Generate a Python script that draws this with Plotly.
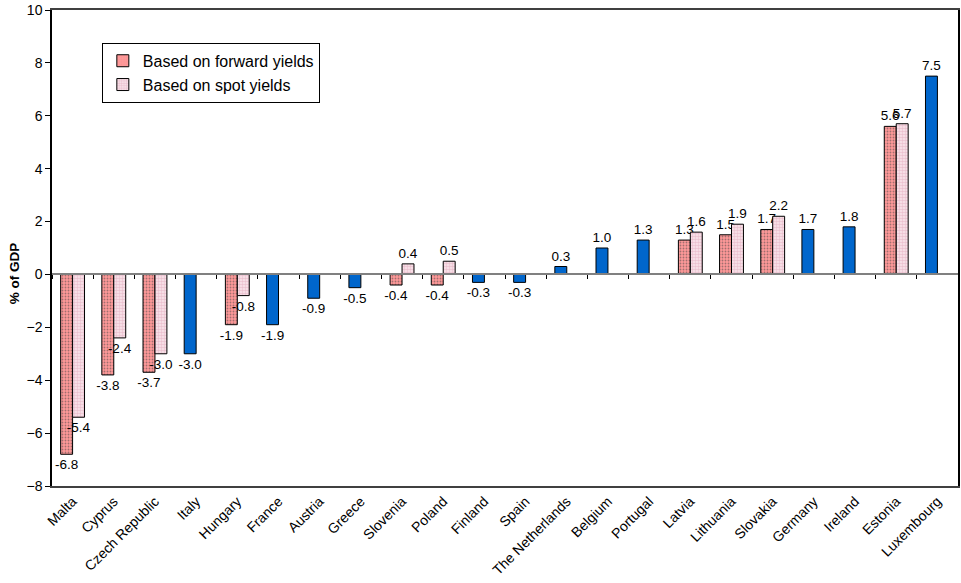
import plotly.graph_objects as go

# Fiscal balance estimates, % of GDP
countries = ["Malta", "Cyprus", "Czech Republic", "Italy", "Hungary", "France",
             "Austria", "Greece", "Slovenia", "Poland", "Finland", "Spain",
             "The Netherlands", "Belgium", "Portugal", "Latvia", "Lithuania",
             "Slovakia", "Germany", "Ireland", "Estonia", "Luxembourg"]
forward = [-6.8, -3.8, -3.7, -3.0, -1.9, -1.9, -0.9, -0.5, -0.4, -0.4, -0.3,
           -0.3, 0.3, 1.0, 1.3, 1.3, 1.5, 1.7, 1.7, 1.8, 5.6, 7.5]
spot = [-5.4, -2.4, -3.0, None, -0.8, None, None, None, 0.4, 0.5, None,
        None, None, None, None, 1.6, 1.9, 2.2, None, None, 5.7, None]

PINK = "#FF9999"
BLUE = "#0066CC"
FONT = "Liberation Sans, Arial, sans-serif"

# countries with a single estimate are shown in blue
single = [s is None for s in spot]
fwd_colors = [BLUE if one else PINK for one in single]
fwd_shapes = ["" if one else "." for one in single]

def fmt(v):
    return None if v is None else f"{v:.1f}"

fig = go.Figure()
fig.add_trace(go.Bar(
    name="Based on forward yields", x=countries, y=forward,
    text=[fmt(v) for v in forward], textposition="outside",
    textfont=dict(size=13.5, color="black", family=FONT),
    constraintext="none", cliponaxis=False,
    marker=dict(color=fwd_colors, line=dict(color="black", width=1),
                pattern=dict(shape=fwd_shapes, bgcolor=PINK, fgcolor="#F48E8E",
                             size=3, solidity=0.3)),
))
fig.add_trace(go.Bar(
    name="Based on spot yields", x=countries, y=spot,
    text=[fmt(v) for v in spot], textposition="outside",
    textfont=dict(size=13.5, color="black", family=FONT),
    constraintext="none", cliponaxis=False,
    marker=dict(color="#F2D0DA", line=dict(color="black", width=1),
                pattern=dict(shape=".", bgcolor="#FAE8EE", fgcolor="#DB9AB0",
                             size=3, solidity=0.55)),
))
# helper axis: the zero line with category-boundary ticks
fig.add_trace(go.Scatter(x=[None], y=[None], xaxis="x2", showlegend=False,
                         hoverinfo="skip"))

ymin, ymax = -8, 10
fig.update_layout(
    width=961, height=583,
    margin=dict(l=52, r=1, t=10, b=97),
    paper_bgcolor="white", plot_bgcolor="white",
    font=dict(family=FONT, size=14, color="black"),
    barmode="group", bargap=0.42, bargroupgap=0,
    showlegend=True,
    legend=dict(x=0.055, y=0.931, xanchor="left", yanchor="top",
                bgcolor="white", bordercolor="black", borderwidth=1,
                font=dict(size=16, family=FONT), itemwidth=30,
                tracegroupgap=2),
    xaxis=dict(type="category", tickangle=-45, ticks="",
               showline=True, linecolor="#404040", linewidth=1.5, mirror=True,
               showgrid=False, tickfont=dict(size=14, family=FONT)),
    xaxis2=dict(overlaying="x", anchor="free",
                position=(0 - ymin) / (ymax - ymin), side="bottom",
                range=[-0.5, len(countries) - 0.5], tickmode="linear",
                tick0=-0.5, dtick=1, ticks="outside", ticklen=4,
                tickcolor="black", tickwidth=1, showline=True,
                linecolor="#808080", linewidth=1.5, showticklabels=False,
                showgrid=False, zeroline=False),
    yaxis=dict(range=[ymin, ymax], dtick=2, ticks="outside", ticklen=5,
               tickcolor="black", showline=True, linecolor="black",
               linewidth=1.5, mirror=True, showgrid=False, zeroline=False,
               tickfont=dict(size=14, family=FONT)),
    annotations=[dict(text="<b>% of GDP</b>", textangle=-90,
                      xref="paper", yref="paper", x=-0.042, y=0.447,
                      xanchor="center", yanchor="middle", showarrow=False,
                      font=dict(size=13.5, family=FONT))],
)

fig.write_html("out.html")
